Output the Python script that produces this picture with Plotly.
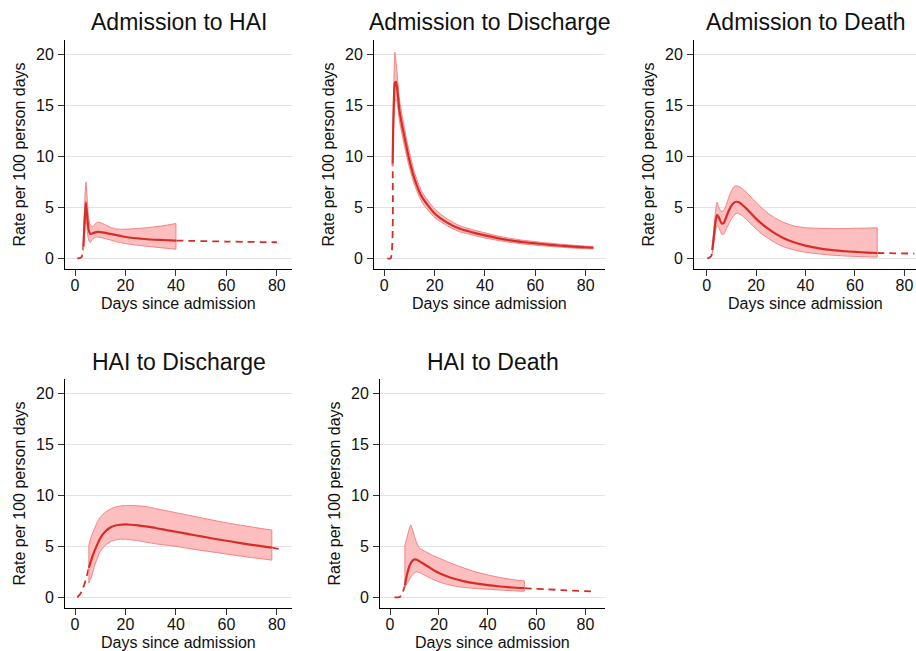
import plotly.graph_objects as go

# ---------------- data ----------------
titles = ["Admission to HAI", "Admission to Discharge", "Admission to Death",
          "HAI to Discharge", "HAI to Death"]
x_title = "Days since admission"
y_title = "Rate per 100 person days"
x_ticks = [0, 20, 40, 60, 80]
y_ticks = [0, 5, 10, 15, 20]

# Admission to HAI
p1_pre_x = [0.9, 1.8, 2.6, 3.0, 3.3]
p1_pre_y = [0.0, 0.03, 0.12, 0.5, 1.15]
p1_x = [3.3, 3.8, 4.3, 4.9, 5.4, 6.0, 7.0, 8.0, 9.0, 10, 12, 14, 16, 18, 20, 23, 26, 30, 35, 40]
p1_y = [1.15, 3.6, 5.5, 3.9, 2.8, 2.4, 2.45, 2.55, 2.6, 2.58, 2.5, 2.4, 2.3, 2.2, 2.1, 2.0, 1.93, 1.85, 1.8, 1.75]
p1_lo = [0.8, 2.4, 4.0, 2.6, 1.8, 1.55, 1.9, 2.05, 2.1, 2.05, 1.95, 1.8, 1.65, 1.55, 1.45, 1.35, 1.25, 1.15, 1.02, 0.9]
p1_hi = [1.6, 5.2, 7.5, 5.6, 3.9, 3.3, 3.1, 3.4, 3.55, 3.5, 3.3, 3.05, 2.9, 2.86, 2.86, 2.9, 2.95, 3.05, 3.2, 3.42]
p1_post_x = [40, 60, 80]
p1_post_y = [1.75, 1.65, 1.58]

# Admission to Discharge
p2_pre_x = [1.2, 2.5, 3.3]
p2_pre_y = [0.0, 0.0, 9.3]
p2_x = [3.3, 3.7, 4.2, 4.6, 5.0, 5.5, 6, 7, 8, 9, 10, 12, 15, 20, 25, 30, 35, 40, 45, 50, 55, 60, 65, 70, 75, 83]
p2_y = [9.3, 14.5, 17.2, 17.3, 16.8, 15.7, 14.5, 13.1, 11.9, 10.7, 9.6, 7.8, 6.0, 4.4, 3.5, 2.9, 2.55, 2.25, 1.98, 1.76, 1.6, 1.47, 1.35, 1.24, 1.15, 1.04]
p2_lo = [9.0, 13.0, 15.3, 15.6, 15.4, 14.5, 13.5, 12.2, 11.0, 9.9, 8.85, 7.2, 5.5, 4.0, 3.2, 2.6, 2.3, 2.0, 1.77, 1.57, 1.42, 1.3, 1.19, 1.1, 1.01, 0.92]
p2_hi = [9.6, 16.2, 20.2, 19.4, 18.3, 17.0, 15.6, 14.1, 12.8, 11.5, 10.4, 8.4, 6.5, 4.85, 3.85, 3.2, 2.82, 2.5, 2.2, 1.96, 1.78, 1.64, 1.51, 1.39, 1.29, 1.16]
p2_post_x = [83]
p2_post_y = [1.04]

# Admission to Death
p3_pre_x = [0.3, 1.2, 2.0, 2.3]
p3_pre_y = [0.0, 0.08, 0.3, 0.8]
p3_x = [2.3, 3.0, 3.6, 4.2, 4.8, 5.5, 6.2, 7.0, 8, 9, 10, 11, 12, 13, 14, 16, 18, 20, 22, 25, 28, 31, 35, 40, 45, 50, 55, 60, 65, 69]
p3_y = [0.8, 2.3, 3.6, 4.25, 4.1, 3.7, 3.4, 3.5, 4.1, 4.7, 5.15, 5.45, 5.55, 5.5, 5.35, 4.9, 4.4, 3.9, 3.45, 2.9, 2.4, 2.0, 1.6, 1.25, 1.0, 0.83, 0.72, 0.63, 0.57, 0.53]
p3_lo = [0.5, 1.6, 2.7, 3.2, 3.1, 2.7, 2.35, 2.4, 2.9, 3.4, 3.85, 4.2, 4.4, 4.4, 4.25, 3.85, 3.35, 2.9, 2.45, 1.95, 1.5, 1.15, 0.85, 0.6, 0.45, 0.33, 0.25, 0.19, 0.15, 0.12]
p3_hi = [1.2, 3.0, 4.6, 5.5, 5.1, 4.7, 4.6, 4.7, 5.3, 6.0, 6.6, 7.0, 7.1, 7.05, 6.9, 6.5, 6.0, 5.5, 5.0, 4.4, 3.9, 3.55, 3.2, 3.0, 2.95, 2.92, 2.92, 2.95, 2.97, 3.0]
p3_post_x = [69, 76, 84]
p3_post_y = [0.53, 0.5, 0.47]

# HAI to Discharge
p4_pre_x = [0.9, 2.0, 3.0, 4.0, 5.5]
p4_pre_y = [0.0, 0.3, 0.8, 1.5, 2.9]
p4_x = [5.5, 6.5, 7.5, 8.5, 10, 12, 14, 16, 18, 20, 22, 25, 28, 32, 36, 40, 45, 50, 55, 60, 65, 70, 75, 78]
p4_y = [2.9, 3.7, 4.4, 5.0, 5.8, 6.45, 6.85, 7.05, 7.12, 7.15, 7.12, 7.05, 6.95, 6.8, 6.6, 6.43, 6.2, 5.98, 5.75, 5.55, 5.35, 5.15, 4.98, 4.88]
p4_lo = [1.4, 2.0, 2.9, 3.6, 4.5, 5.1, 5.45, 5.62, 5.7, 5.7, 5.65, 5.55, 5.42, 5.25, 5.12, 5.0, 4.8, 4.6, 4.43, 4.25, 4.07, 3.9, 3.75, 3.65]
p4_hi = [5.2, 6.0, 6.6, 7.2, 7.85, 8.35, 8.65, 8.85, 8.95, 9.0, 9.0, 8.97, 8.9, 8.7, 8.5, 8.3, 8.05, 7.8, 7.55, 7.3, 7.1, 6.9, 6.7, 6.6]
p4_post_x = [78, 81]
p4_post_y = [4.88, 4.75]

# HAI to Death
p5_pre_x = [1.8, 3.8, 4.8, 6.1]
p5_pre_y = [0.0, 0.02, 0.25, 1.2]
p5_x = [6.1, 7, 8, 8.5, 9, 10, 11, 12, 14, 16, 18, 20, 23, 26, 30, 35, 40, 45, 50, 55]
p5_y = [1.2, 2.3, 3.1, 3.35, 3.55, 3.72, 3.68, 3.55, 3.25, 2.95, 2.65, 2.4, 2.1, 1.85, 1.6, 1.37, 1.2, 1.07, 0.97, 0.9]
p5_lo = [1.0, 1.35, 1.8, 2.0, 2.15, 2.4, 2.5, 2.45, 2.2, 1.95, 1.72, 1.52, 1.3, 1.13, 0.98, 0.88, 0.8, 0.72, 0.65, 0.6]
p5_hi = [5.1, 5.9, 6.8, 7.1, 6.8, 6.0, 5.3, 4.85, 4.55, 4.3, 4.05, 3.85, 3.55, 3.25, 2.9, 2.5, 2.2, 1.95, 1.75, 1.6]
p5_post_x = [55, 70, 84]
p5_post_y = [0.9, 0.72, 0.56]

panels = [
    (p1_pre_x, p1_pre_y, p1_x, p1_y, p1_lo, p1_hi, p1_post_x, p1_post_y),
    (p2_pre_x, p2_pre_y, p2_x, p2_y, p2_lo, p2_hi, p2_post_x, p2_post_y),
    (p3_pre_x, p3_pre_y, p3_x, p3_y, p3_lo, p3_hi, p3_post_x, p3_post_y),
    (p4_pre_x, p4_pre_y, p4_x, p4_y, p4_lo, p4_hi, p4_post_x, p4_post_y),
    (p5_pre_x, p5_pre_y, p5_x, p5_y, p5_lo, p5_hi, p5_post_x, p5_post_y),
]

# ---------------- layout / style ----------------
W, H = 916, 651
FONT = "Liberation Sans, Arial, sans-serif"
LINE_C = "rgb(214,45,38)"
BAND_FILL = "rgb(252,190,190)"
BAND_EDGE = "rgb(243,130,130)"

# plot boxes in pixels: left, right, top, bottom
boxes = [(65, 292, 40, 269), (374, 605, 40, 269), (694, 916, 40, 269),
         (65, 292, 379, 608), (380, 605, 379, 608)]
x_ranges = [[-3.97, 86.0], [-4.1, 87.7], [-5.1, 84.7], [-3.97, 86.0], [-4.1, 88.0]]
y_range = [-1.04, 21.4]
title_y = [22, 22, 22, 362, 362]
xtitle_y = [303, 303, 303, 642, 642]

fig = go.Figure()
annotations = []
layout = {}

for i, (prx, pry, ox, oy, lo, hi, pox, poy) in enumerate(panels):
    n = "" if i == 0 else str(i + 1)
    xa, ya = "x" + n, "y" + n
    # dashed extrapolation
    for dx, dy in ((prx, pry), (pox, poy)):
        if len(dx) > 1:
            fig.add_trace(go.Scatter(x=dx, y=dy, xaxis=xa, yaxis=ya, mode="lines",
                                     line=dict(color=LINE_C, width=1.8, dash="7px,5px", shape="spline", smoothing=0.6),
                                     hoverinfo="skip", showlegend=False))
    # confidence band
    fig.add_trace(go.Scatter(x=ox, y=lo, xaxis=xa, yaxis=ya, mode="lines",
                             line=dict(color=BAND_EDGE, width=1, shape="spline", smoothing=0.6),
                             hoverinfo="skip", showlegend=False))
    fig.add_trace(go.Scatter(x=ox, y=hi, xaxis=xa, yaxis=ya, mode="lines", fill="tonexty",
                             fillcolor=BAND_FILL,
                             line=dict(color=BAND_EDGE, width=1, shape="spline", smoothing=0.6),
                             hoverinfo="skip", showlegend=False))
    # band end edges
    for k in (0, -1):
        fig.add_trace(go.Scatter(x=[ox[k], ox[k]], y=[lo[k], hi[k]], xaxis=xa, yaxis=ya, mode="lines",
                                 line=dict(color=BAND_EDGE, width=1),
                                 hoverinfo="skip", showlegend=False))
    # fitted line
    fig.add_trace(go.Scatter(x=ox, y=oy, xaxis=xa, yaxis=ya, mode="lines",
                             line=dict(color=LINE_C, width=2.2, shape="spline", smoothing=0.6),
                             hoverinfo="skip", showlegend=False))

    l, r, t, b = boxes[i]
    xdom = [l / W, r / W]
    ydom = [1 - b / H, 1 - t / H]
    layout["xaxis" + n] = dict(domain=xdom, anchor=ya, range=x_ranges[i], tickvals=x_ticks,
                               showgrid=False, zeroline=False, showline=True, linecolor="black",
                               linewidth=1, ticks="outside", ticklen=6, tickcolor="#333",
                               ticklabelstandoff=-4,
                               tickfont=dict(family=FONT, size=16, color="#111"), automargin=False,
                               fixedrange=True)
    layout["yaxis" + n] = dict(domain=ydom, anchor=xa, range=y_range, tickvals=y_ticks,
                               showgrid=True, gridcolor="#e3e3e3", gridwidth=1.3, zeroline=False,
                               showline=True, linecolor="black", linewidth=1, ticks="outside",
                               ticklen=6, tickcolor="#333", ticklabelstandoff=1,
                               tickfont=dict(family=FONT, size=16, color="#111"), automargin=False,
                               fixedrange=True)
    cx = (l + r) / 2 / W
    annotations.append(dict(text=titles[i], x=cx, y=1 - title_y[i] / H, xref="paper", yref="paper",
                            xanchor="center", yanchor="middle", showarrow=False,
                            font=dict(family=FONT, size=23, color="#111")))
    annotations.append(dict(text=x_title, x=cx, y=1 - xtitle_y[i] / H, xref="paper", yref="paper",
                            xanchor="center", yanchor="middle", showarrow=False,
                            font=dict(family=FONT, size=16, color="#111")))
    annotations.append(dict(text=y_title, x=(l - 46) / W, y=1 - (t + b) / 2 / H, xref="paper", yref="paper",
                            xanchor="center", yanchor="middle", textangle=-90, showarrow=False,
                            font=dict(family=FONT, size=16, color="#111")))

fig.update_layout(width=W, height=H, margin=dict(l=0, r=0, t=0, b=0),
                  paper_bgcolor="white", plot_bgcolor="white", showlegend=False,
                  annotations=annotations, **layout)

fig.write_html("out.html", config={"displayModeBar": False},
               post_script="document.body.style.margin='0';document.body.style.overflow='hidden';")
